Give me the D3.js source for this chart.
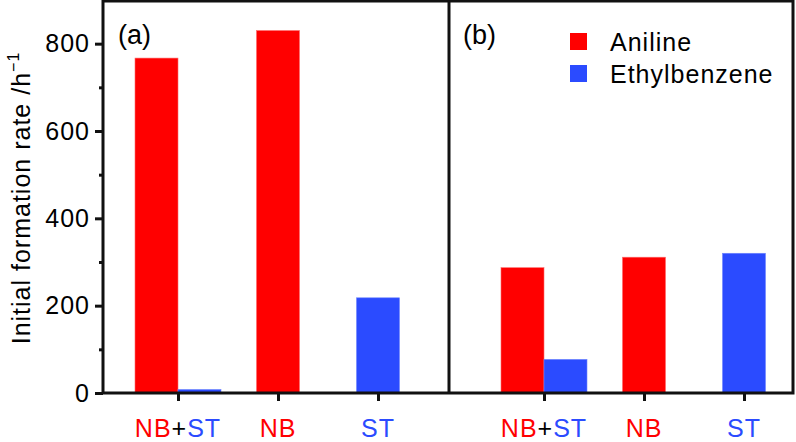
<!DOCTYPE html>
<html>
<head>
<meta charset="utf-8">
<script src="https://cdn.jsdelivr.net/npm/d3@7"></script>
<style>
  body { margin: 0; background: #fff; }
  text { font-family: "Liberation Sans", Arial, sans-serif; fill: #000; }
</style>
</head>
<body>
<div id="chart"></div>
<script>
// categories along the x axis (same in both panels)
const categories = ["NB+ST", "NB", "ST"];
// panel (a)
const anilineA = [767, 830, null];
const ethylA   = [8, null, 218];
// panel (b)
const anilineB = [287, 311, null];
const ethylB   = [77, null, 320];
const yTicks = [0, 200, 400, 600, 800];
const yMinor = [100, 300, 500, 700];
const panelLabels = ["(a)", "(b)"];
const seriesNames = ["Aniline", "Ethylbenzene"];
const red = "#ff0000", blue = "#2b4bff";

const W = 796, H = 442;
const plotL = 103, plotR = 793, plotT = 1, base = 393, divider = 449;

const svg = d3.select("#chart").append("svg")
    .attr("width", W).attr("height", H);

const y = d3.scaleLinear().domain([0, 900]).range([base, 0]);

// each panel gets its own x scale (category index -> px)
const panels = [
    { lab: panelLabels[0], ani: anilineA, eth: ethylA, dx: 15,
      x: d3.scaleLinear().domain([-0.75, 2.71]).range([plotL, divider]) },
    { lab: panelLabels[1], ani: anilineB, eth: ethylB, dx: 14,
      x: d3.scaleLinear().domain([-0.95, 2.49]).range([divider, plotR]) }
];
const bw = 0.43;

panels.forEach(function(p) {
    const g = svg.append("g");
    const bars = [];
    categories.forEach(function(c, i) {
        const a = p.ani[i], e = p.eth[i];
        if (a != null && e != null) {
            bars.push({ x0: i - bw, x1: i, v: a, col: red });
            bars.push({ x0: i, x1: i + bw, v: e, col: blue });
        } else if (a != null) {
            bars.push({ x0: i - bw / 2, x1: i + bw / 2, v: a, col: red });
        } else {
            bars.push({ x0: i - bw / 2, x1: i + bw / 2, v: e, col: blue });
        }
    });
    g.selectAll("rect").data(bars).enter().append("rect")
        .attr("x", d => p.x(d.x0))
        .attr("width", d => p.x(d.x1) - p.x(d.x0))
        .attr("y", d => y(d.v))
        .attr("height", d => base - y(d.v))
        .attr("fill", d => d.col)
        .attr("stroke", d => d.col === red ? "#ff6a6a" : "#6f86ff")
        .attr("stroke-width", 0.6);

    // x axis ticks
    const xAxis = d3.axisBottom(p.x).tickValues([0, 1, 2])
        .tickSize(8).tickFormat("");
    const ax = svg.append("g")
        .attr("transform", "translate(0," + base + ")")
        .call(xAxis);
    ax.select(".domain").remove();
    ax.selectAll("line").attr("stroke", "#111").attr("stroke-width", 3);

    // category labels with coloured parts
    categories.forEach(function(c, i) {
        const t = svg.append("text")
            .attr("x", p.x(i)).attr("y", 437)
            .attr("text-anchor", "middle")
            .style("font-size", "25px")
            .style("letter-spacing", "1px");
        c.split(/(\+)/).forEach(function(part) {
            t.append("tspan").text(part)
                .style("fill", part === "NB" ? red : part === "ST" ? blue : "#000");
        });
    });

    svg.append("text")
        .attr("x", p.x.range()[0] + p.dx)
        .attr("y", 44)
        .style("font-size", "27px")
        .text(p.lab);
});

// y axis
const yAxis = d3.axisLeft(y).tickValues(yTicks).tickSize(8).tickPadding(5);
const ya = svg.append("g").attr("transform", "translate(" + plotL + ",0)").call(yAxis);
ya.select(".domain").remove();
ya.selectAll("line").attr("stroke", "#111").attr("stroke-width", 3);
ya.selectAll("text").style("font-size", "25px").style("letter-spacing", "1px")
    .style("font-family", "'Liberation Sans', Arial, sans-serif").attr("fill", "#000");
const yAxisMinor = d3.axisLeft(y).tickValues(yMinor).tickSize(4).tickFormat("");
const ym = svg.append("g").attr("transform", "translate(" + plotL + ",0)").call(yAxisMinor);
ym.select(".domain").remove();
ym.selectAll("line").attr("stroke", "#111").attr("stroke-width", 3);

// frame
const frame = svg.append("g").attr("stroke", "#111").attr("stroke-width", 3).attr("fill", "none");
frame.append("rect").attr("x", plotL).attr("y", plotT)
    .attr("width", plotR - plotL).attr("height", base - plotT);
frame.append("line").attr("x1", divider).attr("x2", divider)
    .attr("y1", plotT).attr("y2", base);

// y label
const yl = svg.append("text")
    .attr("transform", "translate(30," + 198 + ") rotate(-90)")
    .attr("text-anchor", "middle")
    .style("font-size", "25px")
    .style("letter-spacing", "1px");
yl.append("tspan").text("Initial formation rate /h");
yl.append("tspan").text("\u22121").attr("dy", -11).style("font-size", "16px");

// legend
const leg = svg.selectAll(".legend").data(seriesNames).enter().append("g")
    .attr("class", "legend")
    .attr("transform", (d, i) => "translate(570," + (33 + i * 32) + ")");
leg.append("rect").attr("width", 17).attr("height", 17)
    .attr("fill", (d, i) => i === 0 ? red : blue);
leg.append("text").attr("x", 40).attr("y", 18)
    .style("font-size", "25px").style("letter-spacing", "1px")
    .text(d => d);
</script>
</body>
</html>
